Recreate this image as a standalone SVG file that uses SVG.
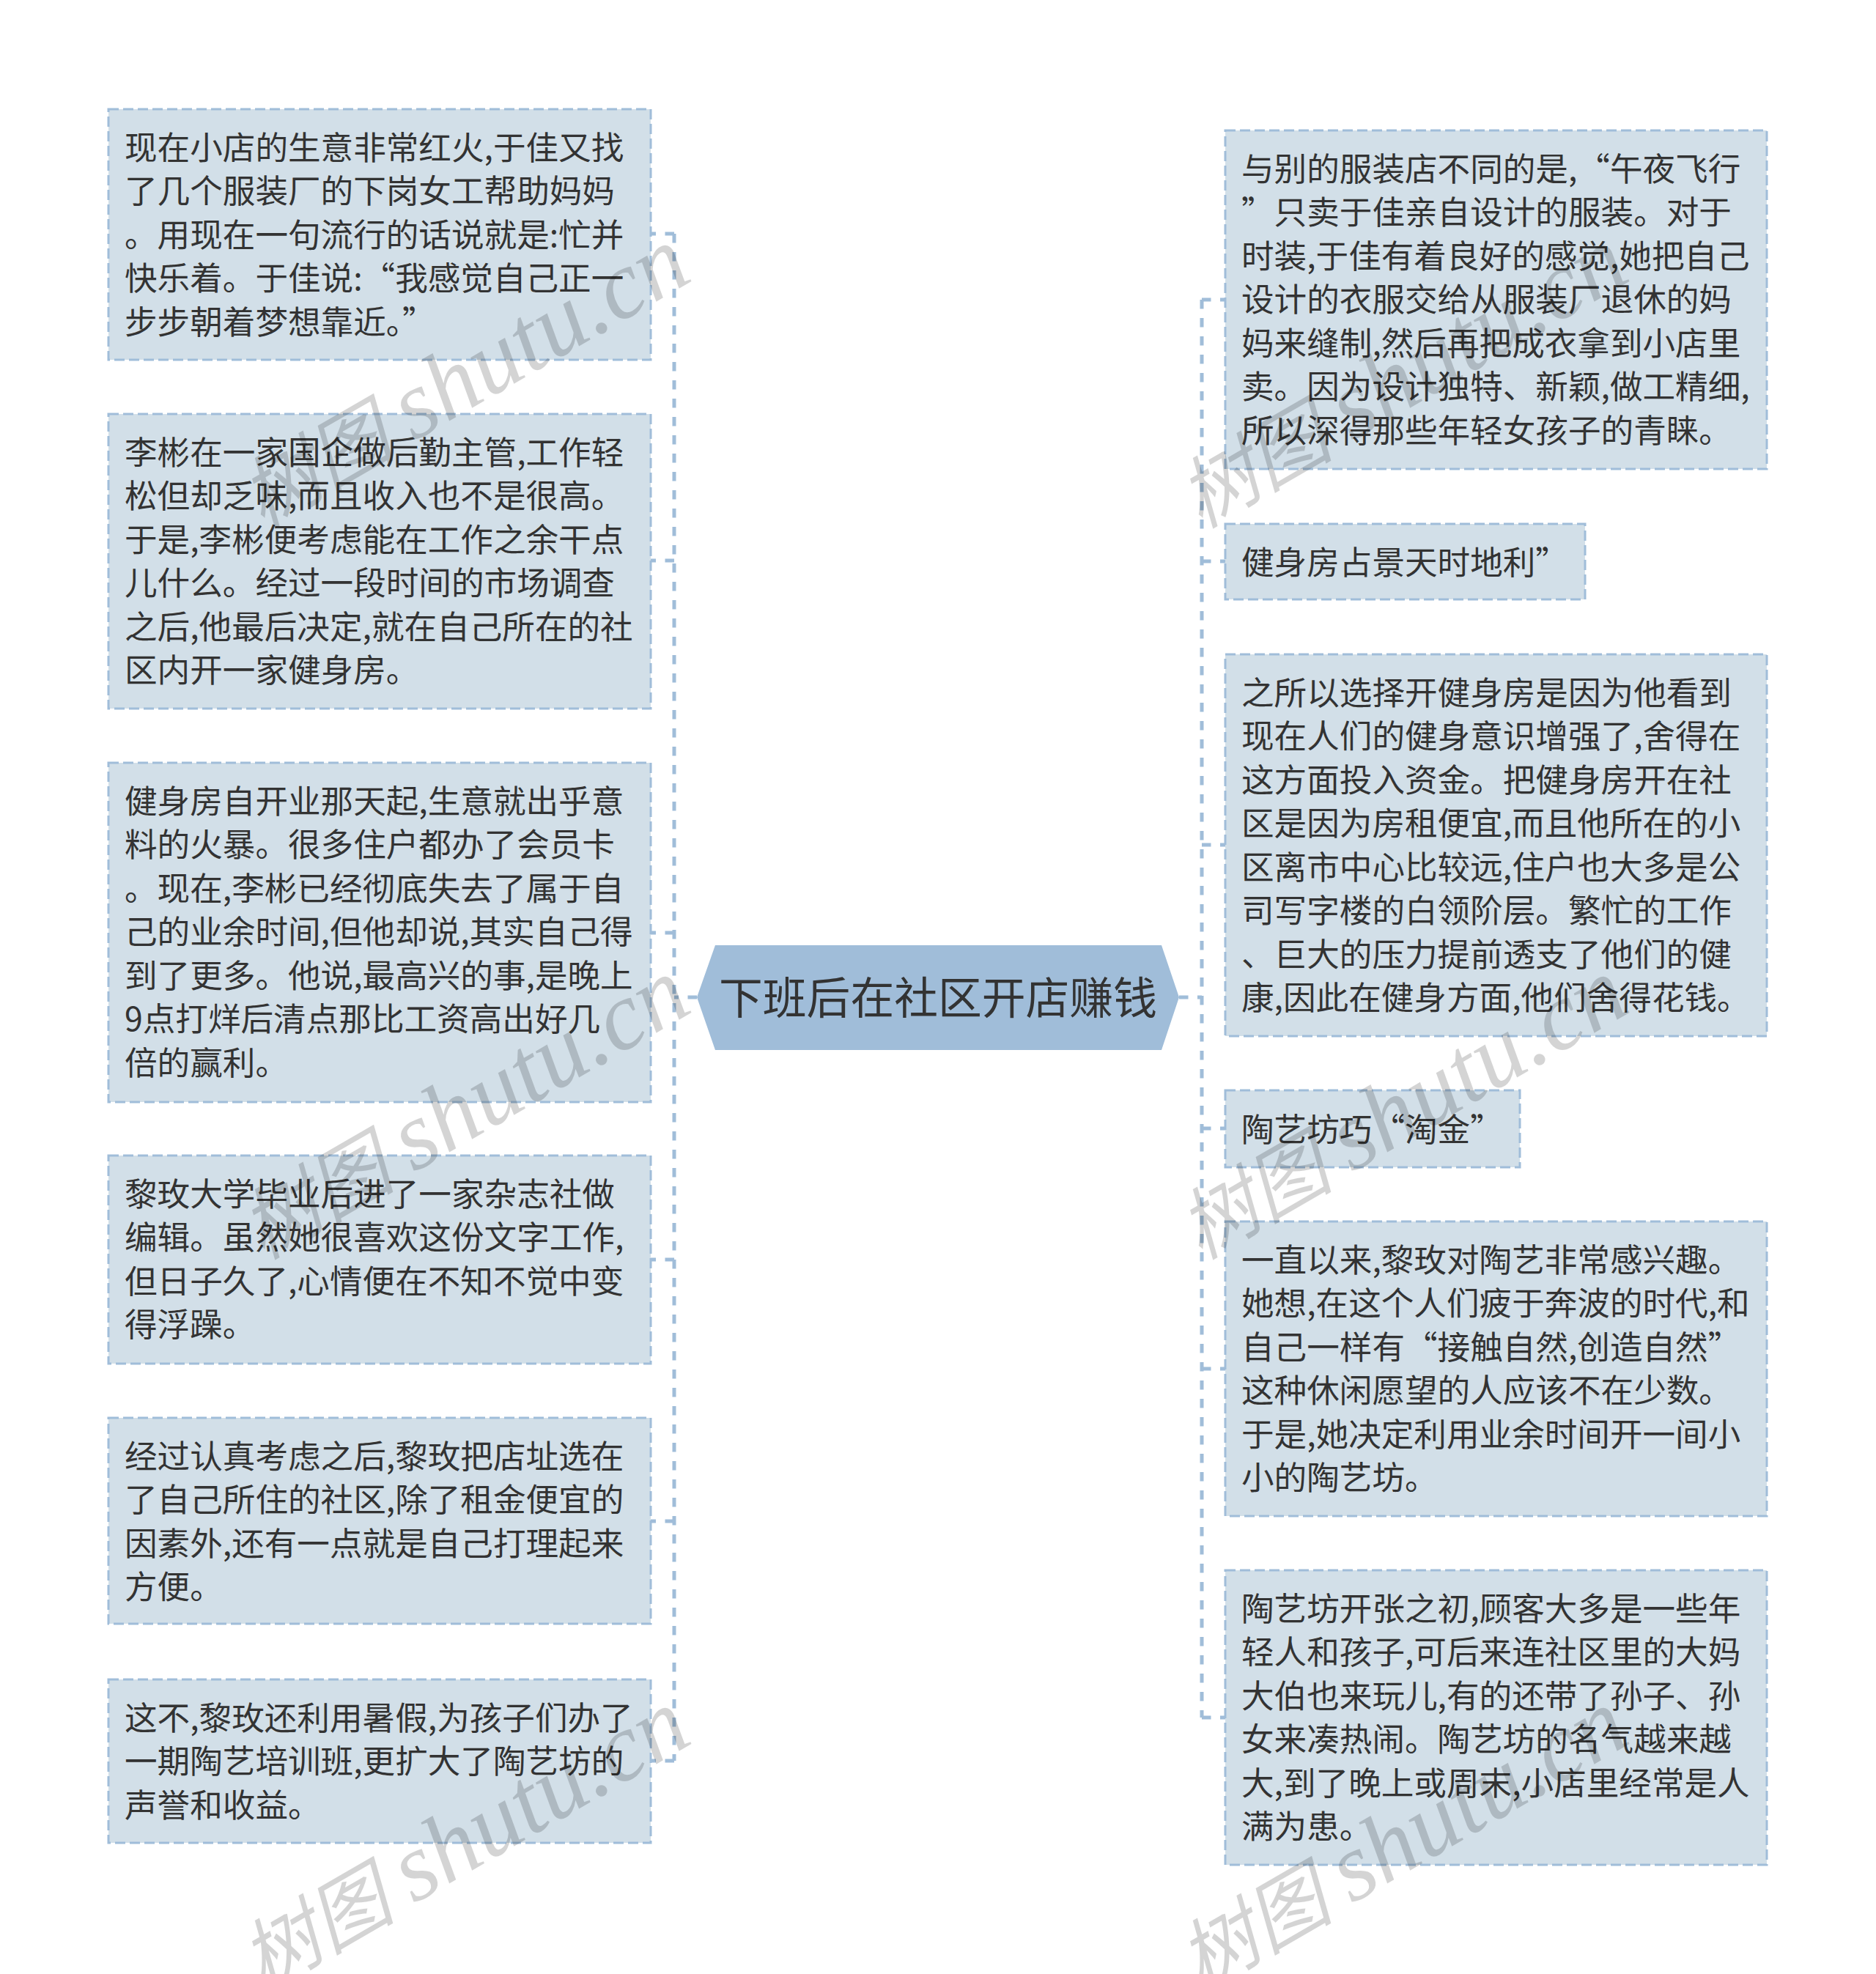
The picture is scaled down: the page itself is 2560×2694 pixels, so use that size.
<svg xmlns="http://www.w3.org/2000/svg" width="2560" height="2694" viewBox="0 0 2560 2694">
<style>
text{font-family:"Noto Sans CJK SC","Noto Sans",sans-serif;fill:#333}
.t{font-size:44.6px}
.t text{transform:translateY(1.5px)}
.b{fill:#d2dfe8;stroke:#a0bdd9;stroke-width:3;stroke-dasharray:14 6}
.c{fill:none;stroke:#a0bdd9;stroke-width:5;stroke-dasharray:12.5 12.5}
.w{font-family:"Liberation Serif","Noto Sans CJK SC",serif;font-style:italic;font-size:132px;fill:#000;fill-opacity:.17}
.w .a{font-size:106px}
</style>
<rect width="2560" height="2694" fill="#fff"/>
<g id="connectors">
<path class="c" d="M951 1361H920M920 319V2403M920 319H888M920 765H888M920 1273H888M920 1719H888M920 2076H888M920 2403H888"/>
<path class="c" d="M1609 1361H1640M1640 409V2344M1640 409H1672M1640 766H1672M1640 1153H1672M1640 1540H1672M1640 1868H1672M1640 2344H1672"/>
</g>
<g id="root"><polygon points="976,1290 1585,1290 1609,1361 1585,1433 976,1433 951,1361" fill="#a0bdd9"/>
<text x="981" y="1384" font-size="59.8">下班后在社区开店赚钱</text></g>
<g id="l1" class="t"><rect class="b" x="148" y="149" width="740" height="342"/>
<text x="170" y="216">现在小店的生意非常红火,于佳又找</text><text x="170" y="275.5">了几个服装厂的下岗女工帮助妈妈</text><text x="170" y="335">。用现在一句流行的话说就是:忙并</text><text x="170" y="394.5">快乐着。于佳说:“我感觉自己正一</text><text x="170" y="454">步步朝着梦想靠近。”</text></g>
<g id="l2" class="t"><rect class="b" x="148" y="565" width="740" height="402"/>
<text x="170" y="632">李彬在一家国企做后勤主管,工作轻</text><text x="170" y="691.5">松但却乏味,而且收入也不是很高。</text><text x="170" y="751">于是,李彬便考虑能在工作之余干点</text><text x="170" y="810.5">儿什么。经过一段时间的市场调查</text><text x="170" y="870">之后,他最后决定,就在自己所在的社</text><text x="170" y="929.5">区内开一家健身房。</text></g>
<g id="l3" class="t"><rect class="b" x="148" y="1041" width="740" height="463"/>
<text x="170" y="1108">健身房自开业那天起,生意就出乎意</text><text x="170" y="1167.5">料的火暴。很多住户都办了会员卡</text><text x="170" y="1227">。现在,李彬已经彻底失去了属于自</text><text x="170" y="1286.5">己的业余时间,但他却说,其实自己得</text><text x="170" y="1346">到了更多。他说,最高兴的事,是晚上</text><text x="170" y="1405.5">9点打烊后清点那比工资高出好几</text><text x="170" y="1465">倍的赢利。</text></g>
<g id="l4" class="t"><rect class="b" x="148" y="1577" width="740" height="284"/>
<text x="170" y="1644">黎玫大学毕业后进了一家杂志社做</text><text x="170" y="1703.5">编辑。虽然她很喜欢这份文字工作,</text><text x="170" y="1763">但日子久了,心情便在不知不觉中变</text><text x="170" y="1822.5">得浮躁。</text></g>
<g id="l5" class="t"><rect class="b" x="148" y="1935" width="740" height="281"/>
<text x="170" y="2002">经过认真考虑之后,黎玫把店址选在</text><text x="170" y="2061.5">了自己所住的社区,除了租金便宜的</text><text x="170" y="2121">因素外,还有一点就是自己打理起来</text><text x="170" y="2180.5">方便。</text></g>
<g id="l6" class="t"><rect class="b" x="148" y="2292" width="740" height="223"/>
<text x="170" y="2359">这不,黎玫还利用暑假,为孩子们办了</text><text x="170" y="2418.5">一期陶艺培训班,更扩大了陶艺坊的</text><text x="170" y="2478">声誉和收益。</text></g>
<g id="r1" class="t"><rect class="b" x="1672" y="178" width="739" height="462"/>
<text x="1694" y="245">与别的服装店不同的是,“午夜飞行</text><text x="1694" y="304.5">”只卖于佳亲自设计的服装。对于</text><text x="1694" y="364">时装,于佳有着良好的感觉,她把自己</text><text x="1694" y="423.5">设计的衣服交给从服装厂退休的妈</text><text x="1694" y="483">妈来缝制,然后再把成衣拿到小店里</text><text x="1694" y="542.5">卖。因为设计独特、新颖,做工精细,</text><text x="1694" y="602">所以深得那些年轻女孩子的青睐。</text></g>
<g id="r2" class="t"><rect class="b" x="1672" y="715" width="491" height="103"/>
<text x="1694" y="782">健身房占景天时地利”</text></g>
<g id="r3" class="t"><rect class="b" x="1672" y="893" width="739" height="521"/>
<text x="1694" y="960">之所以选择开健身房是因为他看到</text><text x="1694" y="1019.5">现在人们的健身意识增强了,舍得在</text><text x="1694" y="1079">这方面投入资金。把健身房开在社</text><text x="1694" y="1138.5">区是因为房租便宜,而且他所在的小</text><text x="1694" y="1198">区离市中心比较远,住户也大多是公</text><text x="1694" y="1257.5">司写字楼的白领阶层。繁忙的工作</text><text x="1694" y="1317">、巨大的压力提前透支了他们的健</text><text x="1694" y="1376.5">康,因此在健身方面,他们舍得花钱。</text></g>
<g id="r4" class="t"><rect class="b" x="1672" y="1488" width="402" height="105"/>
<text x="1694" y="1556">陶艺坊巧“淘金”</text></g>
<g id="r5" class="t"><rect class="b" x="1672" y="1667" width="739" height="402"/>
<text x="1694" y="1734">一直以来,黎玫对陶艺非常感兴趣。</text><text x="1694" y="1793.5">她想,在这个人们疲于奔波的时代,和</text><text x="1694" y="1853">自己一样有“接触自然,创造自然”</text><text x="1694" y="1912.5">这种休闲愿望的人应该不在少数。</text><text x="1694" y="1972">于是,她决定利用业余时间开一间小</text><text x="1694" y="2031.5">小的陶艺坊。</text></g>
<g id="r6" class="t"><rect class="b" x="1672" y="2143" width="739" height="402"/>
<text x="1694" y="2210">陶艺坊开张之初,顾客大多是一些年</text><text x="1694" y="2269.5">轻人和孩子,可后来连社区里的大妈</text><text x="1694" y="2329">大伯也来玩儿,有的还带了孙子、孙</text><text x="1694" y="2388.5">女来凑热闹。陶艺坊的名气越来越</text><text x="1694" y="2448">大,到了晚上或周末,小店里经常是人</text><text x="1694" y="2507.5">满为患。</text></g>
<g id="watermarks">
<text class="w" transform="translate(358 722) rotate(-30)"><tspan class="a">树图 </tspan>shutu.cn</text>
<text class="w" transform="translate(358 1720) rotate(-30)"><tspan class="a">树图 </tspan>shutu.cn</text>
<text class="w" transform="translate(358 2718) rotate(-30)"><tspan class="a">树图 </tspan>shutu.cn</text>
<text class="w" transform="translate(1638 722) rotate(-30)"><tspan class="a">树图 </tspan>shutu.cn</text>
<text class="w" transform="translate(1638 1720) rotate(-30)"><tspan class="a">树图 </tspan>shutu.cn</text>
<text class="w" transform="translate(1638 2718) rotate(-30)"><tspan class="a">树图 </tspan>shutu.cn</text>
</g>
</svg>
